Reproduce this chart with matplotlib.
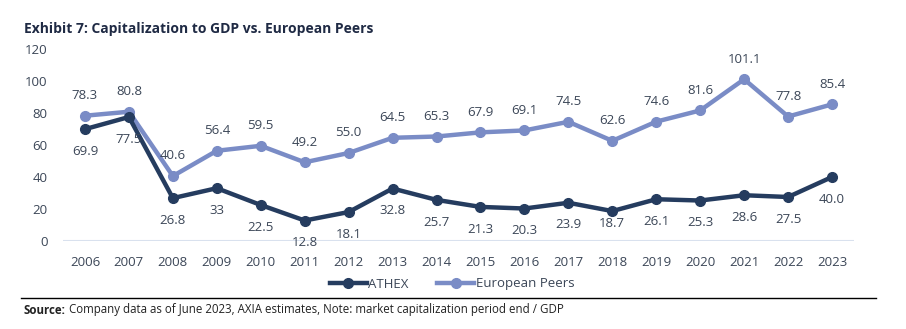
import matplotlib
matplotlib.use("Agg")
import matplotlib.pyplot as plt
from matplotlib.lines import Line2D

years = [2006, 2007, 2008, 2009, 2010, 2011, 2012, 2013, 2014, 2015,
         2016, 2017, 2018, 2019, 2020, 2021, 2022, 2023]
athex = [69.9, 77.5, 26.8, 33, 22.5, 12.8, 18.1, 32.8, 25.7, 21.3,
         20.3, 23.9, 18.7, 26.1, 25.3, 28.6, 27.5, 40.0]
athex_labels = ["69.9", "77.5", "26.8", "33", "22.5", "12.8", "18.1", "32.8", "25.7", "21.3",
                "20.3", "23.9", "18.7", "26.1", "25.3", "28.6", "27.5", "40.0"]
peers = [78.3, 80.8, 40.6, 56.4, 59.5, 49.2, 55.0, 64.5, 65.3, 67.9,
         69.1, 74.5, 62.6, 74.6, 81.6, 101.1, 77.8, 85.4]
yticks = [0, 20, 40, 60, 80, 100, 120]

FONT = ["Open Sans", "DejaVu Sans"]
plt.rcParams["font.family"] = FONT

C_ATHEX = "#253c5f"
C_PEERS = "#7a8cc6"
C_TEXT = "#3b4657"

W, H = 906, 329
fig = plt.figure(figsize=(W / 100, H / 100), dpi=100)
ax = fig.add_axes([63 / W, 1 - 241 / H, (854 - 63) / W, (241 - 49) / H])

x = list(range(len(years)))
ax.plot(x, peers, color=C_PEERS, lw=3.2, marker="o", ms=7, zorder=3,
        solid_joinstyle="round")
ax.plot(x, athex, color=C_ATHEX, lw=3.2, marker="o", ms=7, zorder=4,
        solid_joinstyle="round")

ax.set_xlim(-0.5, len(years) - 0.5)
ax.set_ylim(0, 120)
ax.set_yticks(yticks)
ax.set_xticks(x)
ax.set_xticklabels([str(y) for y in years])
ax.tick_params(axis="both", length=0, labelsize=9.5, colors=C_TEXT)
ax.tick_params(axis="y", pad=11)
ax.tick_params(axis="x", pad=11)
for s in ax.spines.values():
    s.set_visible(False)
ax.axhline(0, color="#d9e1ee", lw=1.5, zorder=1)

# value labels: peers above, ATHEX below
for xi, v in zip(x, peers):
    ax.annotate(f"{v:.1f}", (xi, v), xytext=(0, 14.5), textcoords="offset points",
                ha="center", va="center", fontsize=9.5, color=C_TEXT,
                annotation_clip=False)
for xi, v, t in zip(x, athex, athex_labels):
    dy = -9 if years[xi] == 2018 else -16
    ax.annotate(t, (xi, v), xytext=(0, dy), textcoords="offset points",
                ha="center", va="center", fontsize=9.5, color=C_TEXT,
                annotation_clip=False, zorder=5)

handles = [
    Line2D([], [], color=C_ATHEX, lw=3.2, marker="o", ms=7),
    Line2D([], [], color=C_PEERS, lw=3.2, marker="o", ms=7),
]
fig.legend(handles, ["ATHEX", "European Peers"], loc="center",
           bbox_to_anchor=(452 / W, 1 - 284 / H), ncol=2, frameon=False,
           fontsize=9.5, labelcolor=C_TEXT, handlelength=2.8,
           handletextpad=0.1, columnspacing=2.2)

fig.text(24 / W, 1 - 29 / H, "Exhibit 7: Capitalization to GDP vs. European Peers",
         fontsize=10, fontweight="bold", color="#1f2a44", ha="left", va="center")

fig.add_artist(Line2D([21 / W, 876 / W], [1 - 298 / H] * 2, color="black", lw=1.0))

src = fig.text(24 / W, 1 - 310 / H, "Source:", fontsize=8.3, fontweight="bold",
               color="#222222", ha="left", va="center")
fig.canvas.draw()
bb = src.get_window_extent()
fig.text(bb.x1 / W + 3 / W, 1 - 310 / H,
         "Company data as of June 2023, AXIA estimates, Note: market capitalization period end / GDP",
         fontsize=8.3, color="#222222", ha="left", va="center")

fig.savefig("out.png", dpi=100)
